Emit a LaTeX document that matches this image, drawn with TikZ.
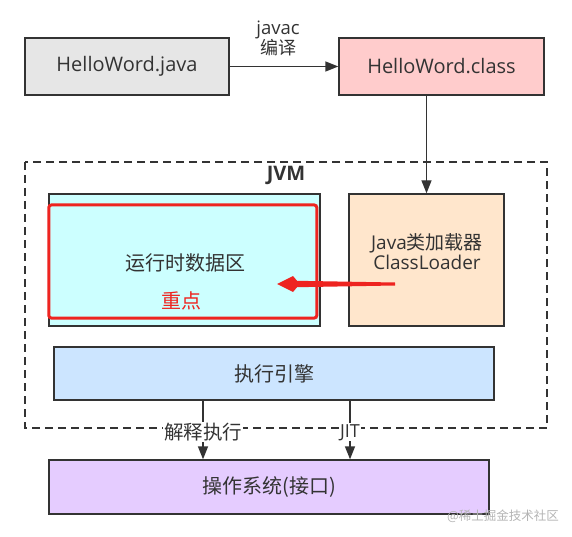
\documentclass[tikz,border=0pt]{standalone}
\usepackage{fontspec}
\setmainfont{Noto Sans CJK SC}
\newfontfamily\lat{Open Sans}
\usetikzlibrary{arrows.meta,calc}
\definecolor{ink}{HTML}{333333}
\definecolor{javafill}{HTML}{E6E6E6}
\definecolor{classfill}{HTML}{FFCCCC}
\definecolor{rtfill}{HTML}{CCFFFF}
\definecolor{clfill}{HTML}{FFE6CC}
\definecolor{engfill}{HTML}{CCE5FF}
\definecolor{osfill}{HTML}{E5CCFF}
\definecolor{hot}{HTML}{EE2420}
\definecolor{wm}{HTML}{B4B4B4}
\tikzset{
  box/.style={draw=ink, line width=1.4pt, inner sep=0pt, text=ink, font=\fontsize{20}{24}\selectfont},
  conn/.style={draw=ink, line width=1.4pt, -{Triangle[length=13pt,width=10pt]}},
  lbl/.style={text=ink, font=\fontsize{19.5}{23}\selectfont, inner sep=1pt},
  edgelbl/.style={lbl, fill=white},
}
\begin{document}
\begin{tikzpicture}[x=1pt,y=-1pt]
\useasboundingbox (0,0) rectangle (572,537);
% top row
\node[box, fill=javafill, minimum width=204pt, minimum height=57pt] (java) at (127,66.5) {\lat\fontsize{20}{24}\selectfont HelloWord.java};
\node[box, fill=classfill, minimum width=205pt, minimum height=57pt] (class) at (441.5,66.5) {\lat\fontsize{20}{24}\selectfont HelloWord.class};
\draw[conn] (java.east) -- (class.west);
\node[lbl, align=center, font=\fontsize{18}{20}\selectfont] (javac) at (278,38) {{\lat\fontsize{18.5}{20}\selectfont javac}\\编译};
% JVM frame
\draw[draw=ink, line width=1.4pt, dash pattern=on 8pt off 5pt] (25,162) rectangle (547,428);
\node[text=ink, font=\lat\bfseries\fontsize{20}{24}\selectfont, inner sep=0pt] (jvm) at (286,175) {JVM};
% runtime data area
\node[box, fill=rtfill, minimum width=271pt, minimum height=132pt] (rt) at (184.5,260) {};
\node[draw=hot, line width=3pt, rounded corners=2.5pt, minimum width=268pt, minimum height=113pt, inner sep=0pt] (hl) at (182.8,261.5) {};
\node[lbl, font=\fontsize{20}{24}\selectfont] (rtlabel) at (185,263) {运行时数据区};
\node[lbl, text=hot, font=\fontsize{20}{24}\selectfont] (key) at (181,301) {重点};
% class loader
\node[box, fill=clfill, minimum width=155pt, minimum height=132pt] (cl) at (426.5,260) {};
\node[lbl, align=center, font=\fontsize{19}{20}\selectfont] (cltext) at (427,252) {{\lat Java}类加载器\\{\lat ClassLoader}};
\draw[conn] (class.south -| cl.north) -- (cl.north);
% red arrow
\coordinate (rtail) at (395,284);
\coordinate (rtip) at (277,284);
\fill[hot] ($(rtail)+(0,-1.5)$) -- ($(rtip)+(20,-3.2)$) -- ($(rtip)+(16,-8)$) -- (rtip) -- ($(rtip)+(16,8)$) -- ($(rtip)+(20,3.2)$) -- ($(rtail)+(0,1.5)$) -- cycle;
% execution engine
\node[box, fill=engfill, minimum width=440pt, minimum height=53pt] (eng) at (274,373.5) {执行引擎};
% OS
\node[box, fill=osfill, minimum width=440pt, minimum height=54pt] (os) at (269,487) {操作系统(接口)};
\coordinate (ix) at (203,0);
\coordinate (jx) at (350,0);
\draw[conn] (eng.south -| ix) -- node[edgelbl, pos=0.54] (interp) {解释执行} (os.north -| ix);
\draw[conn] (eng.south -| jx) -- node[edgelbl, pos=0.54, font=\lat\fontsize{18}{20}\selectfont] (jit) {JIT} (os.north -| jx);
% watermark
\node[text=wm, font=\fontsize{12.5}{15}\selectfont, inner sep=0pt] (mark) at (503,516) {@稀土掘金技术社区};
\end{tikzpicture}
\end{document}
